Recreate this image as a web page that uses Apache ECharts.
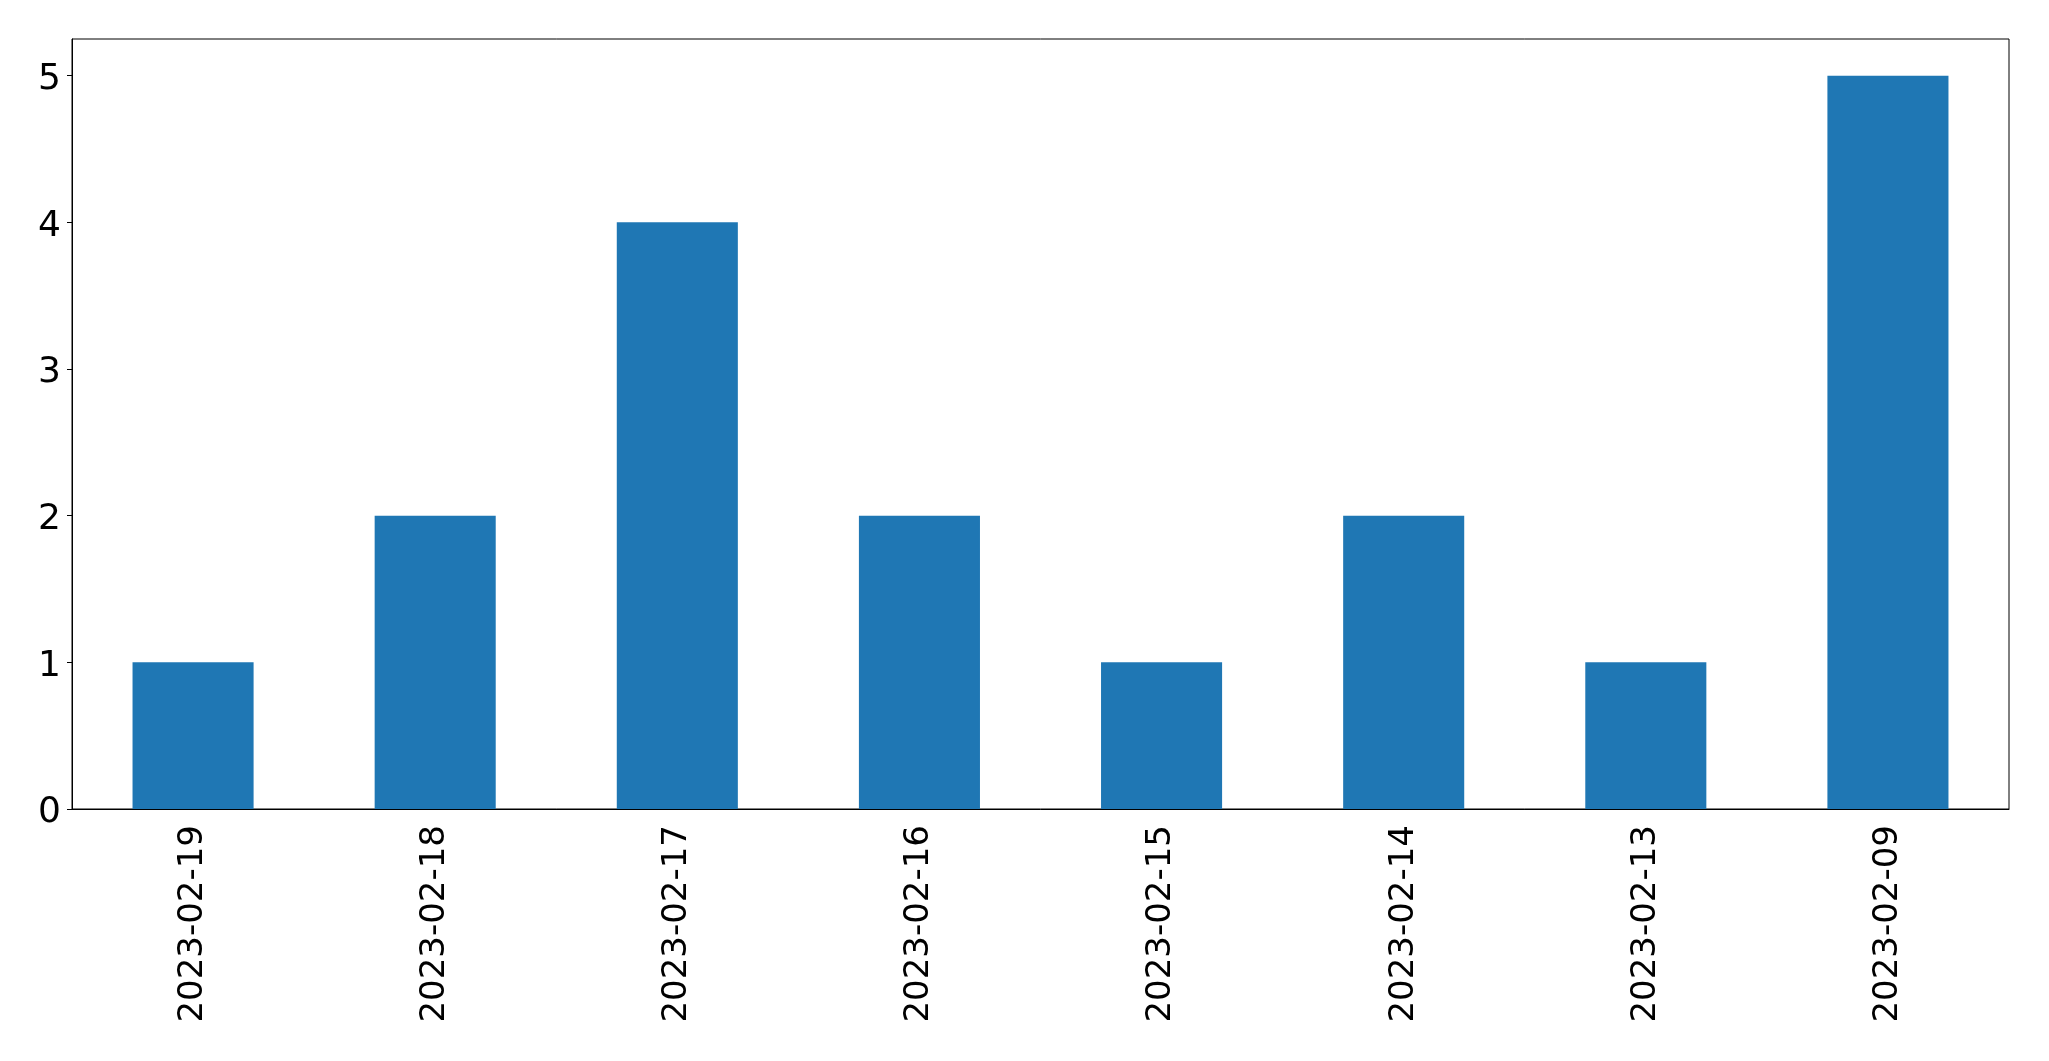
<!DOCTYPE html>
<html>
<head>
<meta charset="utf-8">
<script src="https://cdn.jsdelivr.net/npm/echarts@6/dist/echarts.min.js"></script>
<style>
  html, body { margin: 0; padding: 0; background: #fff; }
  #chart { width: 2049px; height: 1061px; }
</style>
</head>
<body>
<div id="chart"></div>
<script>
// dates on the x axis, in the order shown
const dates = ["2023-02-19", "2023-02-18", "2023-02-17", "2023-02-16",
               "2023-02-15", "2023-02-14", "2023-02-13", "2023-02-09"];
const counts = [1, 2, 4, 2, 1, 2, 1, 5];
const yTicks = [0, 1, 2, 3, 4, 5];

const chart = echarts.init(document.getElementById("chart"));
const font = "DejaVu Sans";

chart.setOption({
  animation: false,
  backgroundColor: "#fff",
  grid: {
    left: 72, right: 40, top: 39, bottom: 252,
    show: true, borderColor: "#000", borderWidth: 1,
    backgroundColor: "transparent"
  },
  xAxis: {
    type: "category",
    data: dates,
    boundaryGap: true,
    axisLine: { lineStyle: { color: "#000", width: 1 } },
    axisTick: { alignWithLabel: true, length: 5, lineStyle: { color: "#000" } },
    axisLabel: {
      rotate: 90, margin: 16, color: "#000",
      fontFamily: font, fontSize: 34
    },
    splitLine: { show: false }
  },
  yAxis: {
    type: "value",
    min: 0, max: 5.25,
    axisLine: { show: true, lineStyle: { color: "#000", width: 1 } },
    axisTick: { show: true, length: 5, lineStyle: { color: "#000" }, customValues: yTicks },
    axisLabel: {
      margin: 11, color: "#000", fontFamily: font, fontSize: 36,
      customValues: yTicks,
      // nudge the numbers a little lower, as in the source picture
      formatter: v => "{n|" + v + "}",
      rich: { n: { fontFamily: font, fontSize: 36, color: "#000", padding: [8, 0, 0, 0] } }
    },
    splitLine: { show: false }
  },
  series: [{
    type: "bar",
    data: counts,
    barWidth: "50%",
    itemStyle: { color: "#1f77b4" }
  }]
});
</script>
</body>
</html>
